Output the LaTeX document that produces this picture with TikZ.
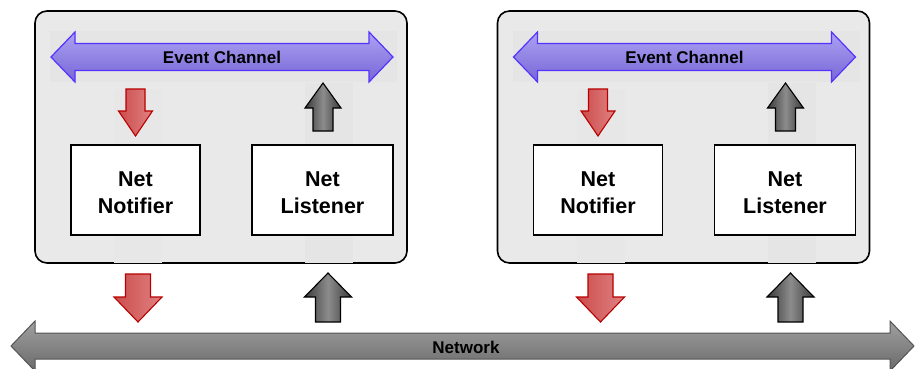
\documentclass[tikz,border=0pt]{standalone}
\usepackage{fontspec}
\setmainfont{Liberation Sans}
\begin{document}
\begin{tikzpicture}[x=1pt,y=-1pt,
  container/.style={draw=black,line width=1.6pt,rounded corners=12pt,fill=boxgray},
  netbox/.style={draw=black,line width=1.4pt,fill=white,minimum width=#1,minimum height=90pt,align=center,inner sep=0pt},
  nettext/.style={align=center,inner sep=0pt,font=\fontsize{21.5}{27}\selectfont\bfseries},
  chanlabel/.style={font=\fontsize{17}{19}\selectfont\bfseries,inner sep=0pt},
  chanarrow/.style={draw=chanborder,line width=1.2pt,top color=chantop,bottom color=chanbot,line join=miter},
  redarrow/.style={draw=redborder,line width=1.1pt,left color=redleft,right color=redright,line join=miter},
  grayarrow/.style={draw=black,line width=1.1pt,left color=darkedge,right color=darkedge,middle color=darkmid,line join=miter},
  netarrow/.style={draw=netborder,line width=1pt,top color=nettop,bottom color=netbot,line join=miter}
]
\definecolor{boxgray}{HTML}{E9E9E9}
\definecolor{stripgray}{HTML}{E5E5E5}
\definecolor{chanborder}{HTML}{5533FF}
\definecolor{chantop}{HTML}{ACA2F2}
\definecolor{chanbot}{HTML}{7666D6}
\definecolor{redborder}{HTML}{B80000}
\definecolor{redleft}{HTML}{CC4C4C}
\definecolor{redright}{HTML}{E08282}
\definecolor{darkedge}{HTML}{3A3A3A}
\definecolor{darkmid}{HTML}{8C8C8C}
\definecolor{netborder}{HTML}{555555}
\definecolor{nettop}{HTML}{A0A0A0}
\definecolor{netbot}{HTML}{6A6A6A}

\useasboundingbox (0,0) rectangle (915,369);
\fill[white] (0,0) rectangle (915,369);

% vertical arrow: #1 style, #2 cx, #3 y flat end, #4 y head base, #5 y tip, #6 half shaft, #7 half head
\newcommand{\blockarrow}[7]{%
  \path[#1] (#2-#6,#3) -- (#2+#6,#3) -- (#2+#6,#4) -- (#2+#7,#4) -- (#2,#5)
    -- (#2-#7,#4) -- (#2-#6,#4) -- cycle;}
% double horizontal arrow: #1 style, #2 xl tip, #3 xr tip, #4 cy, #5 head len, #6 half shaft, #7 half head
\newcommand{\dblarrow}[7]{%
  \path[#1] (#2,#4) -- (#2+#5,#4-#7) -- (#2+#5,#4-#6) -- (#3-#5,#4-#6) -- (#3-#5,#4-#7)
    -- (#3,#4) -- (#3-#5,#4+#7) -- (#3-#5,#4+#6) -- (#2+#5,#4+#6) -- (#2+#5,#4+#7) -- cycle;}

\foreach \dx/\s in {0/L,462.5/R}{
  \begin{scope}[xshift=\dx]
    \path[container] (35,11) rectangle (407,263);
    \fill[stripgray] (50,31) rectangle (397,82);
    \fill[stripgray!60!boxgray] (114,89) rectangle (162,263);
    \fill[stripgray] (305,83) rectangle (353,263);
    \dblarrow{chanarrow}{51}{393}{57}{24}{13.5}{25}
    \node[chanlabel] (chan\s) at (222,57) {Event Channel};
    \blockarrow{redarrow}{135.5}{89}{111}{136}{9.5}{17}
    \blockarrow{grayarrow}{323}{131}{108}{83}{10}{18}
    \node[netbox=129pt] (notif\s) at (135.5,190) {};
    \node[nettext] at ([yshift=-2.5pt]notif\s.center) {Net\\Notifier};
    \node[netbox=141pt] (list\s) at (322.5,190) {};
    \node[nettext] at ([yshift=-2.5pt]list\s.center) {Net\\Listener};
    \blockarrow{redarrow}{138}{274}{297}{322}{12.5}{24}
    \blockarrow{grayarrow}{328}{322}{297}{273}{12.5}{23.5}
  \end{scope}
}

\dblarrow{netarrow}{11}{914}{346}{24}{13}{25}
\node[chanlabel] (net) at (466,347) {Network};
\end{tikzpicture}
\end{document}
